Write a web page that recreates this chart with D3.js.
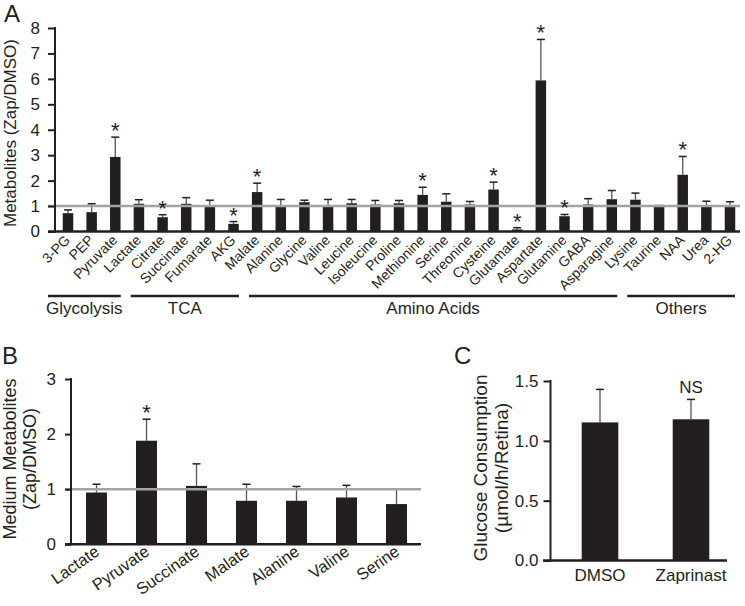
<!DOCTYPE html>
<html><head><meta charset="utf-8">
<script src="https://cdn.jsdelivr.net/npm/d3@7"></script>
<style>
html,body{margin:0;padding:0;background:#fff;}
svg text{font-family:"Liberation Sans",Arial,sans-serif;fill:#231f20;}
</style></head>
<body><svg id="chart" width="745" height="606"></svg>
<script>
// ---------- Panel A data ----------
const aCategories = ["3-PG","PEP","Pyruvate","Lactate","Citrate","Succinate","Fumarate","AKG","Malate",
  "Alanine","Glycine","Valine","Leucine","Isoleucine","Proline","Methionine","Serine","Threonine",
  "Cysteine","Glutamate","Aspartate","Glutamine","GABA","Asparagine","Lysine","Taurine","NAA","Urea","2-HG"];
const aValues = [0.72,0.76,2.93,1.09,0.56,1.09,0.97,0.30,1.55,
  0.98,1.15,0.98,1.11,1.06,1.11,1.44,1.17,1.06,
  1.65,0.08,5.94,0.60,1.06,1.27,1.25,1.00,2.23,0.98,1.00];
const aErrors = [0.13,0.33,0.78,0.16,0.10,0.24,0.26,0.09,0.35,
  0.28,0.08,0.28,0.15,0.16,0.11,0.30,0.31,0.12,
  0.29,0.07,1.61,0.07,0.23,0.34,0.26,0.02,0.72,0.21,0.17];
const aStars = ["Pyruvate","Citrate","AKG","Malate","Methionine","Cysteine","Glutamate","Aspartate","Glutamine","NAA"];
const aTicks = [0,1,2,3,4,5,6,7,8];
const aGroups = [
  {name:"Glycolysis", first:"3-PG", last:"Lactate"},
  {name:"TCA", first:"Citrate", last:"Malate"},
  {name:"Amino Acids", first:"Alanine", last:"Lysine"},
  {name:"Others", first:"Taurine", last:"2-HG"}
];
// ---------- Panel B data ----------
const bCategories = ["Lactate","Pyruvate","Succinate","Malate","Alanine","Valine","Serine"];
const bValues = [0.94,1.88,1.06,0.79,0.79,0.85,0.73];
const bErrors = [0.15,0.39,0.40,0.30,0.26,0.22,0.27];
const bStars = ["Pyruvate"];
const bTicks = [0,1,2,3];
// ---------- Panel C data ----------
const cCategories = ["DMSO","Zaprinast"];
const cValues = [1.154,1.18];
const cErrors = [0.276,0.166];
const cTicks = [0,0.5,1.0,1.5];
const cNote = "NS";

const svg = d3.select("#chart");
svg.append("rect").attr("width",745).attr("height",606).attr("fill","#fff");
const ink = "#231f20";

function panel(opts){
  const g = svg.append("g");
  const x = d3.scalePoint().domain(opts.cats).range(opts.xr).padding(0);
  const y = d3.scaleLinear().domain(opts.yd).range(opts.yr);
  // error bars
  const eg = g.append("g");
  opts.cats.forEach((c,i)=>{
    const v = opts.vals[i], e = opts.errs[i], cx = x(c);
    eg.append("line").attr("x1",cx).attr("x2",cx).attr("y1",y(v)).attr("y2",y(v+e))
      .attr("stroke","#555").attr("stroke-width",1.3);
    eg.append("line").attr("x1",cx-opts.cap/2).attr("x2",cx+opts.cap/2).attr("y1",y(v+e)).attr("y2",y(v+e))
      .attr("stroke",ink).attr("stroke-width",1.5);
  });
  // bars
  g.selectAll("rect.bar").data(opts.cats).enter().append("rect")
    .attr("x",d=>x(d)-opts.bw/2).attr("width",opts.bw)
    .attr("y",(d,i)=>y(opts.vals[i])).attr("height",(d,i)=>y(0)-y(opts.vals[i]))
    .attr("fill",ink);
  // reference line over bars
  if (opts.refLine !== undefined){
    g.append("line").attr("x1",opts.axX0).attr("x2",opts.axX1)
      .attr("y1",y(opts.refLine)).attr("y2",y(opts.refLine))
      .attr("stroke","#a3a3a3").attr("stroke-width",2.5);
  }
  // stars
  (opts.stars||[]).forEach(s=>{
    const i = opts.cats.indexOf(s);
    g.append("text").attr("x",x(s)).attr("y",y(opts.vals[i]+opts.errs[i])+opts.starDy)
      .attr("text-anchor","middle").style("font-size",opts.starSize+"px").text("*");
  });
  // y axis
  const yAxis = d3.axisLeft(y).tickValues(opts.ticks).tickFormat(opts.fmt).tickSize(opts.tickLen).tickPadding(opts.tickPad);
  const ya = g.append("g").attr("transform",`translate(${opts.axY},0)`).call(yAxis);
  ya.select(".domain").remove();
  ya.selectAll(".tick line").attr("stroke",ink).attr("stroke-width",2);
  ya.selectAll(".tick text").style("font-size",opts.tickFont+"px")
    .style("font-family","Liberation Sans, Arial, sans-serif").attr("fill","#333");
  g.append("line").attr("x1",opts.axY).attr("x2",opts.axY).attr("y1",opts.yr[1]-1).attr("y2",y(0)+1)
    .attr("stroke",ink).attr("stroke-width",2);
  // x axis line
  g.append("line").attr("x1",opts.axX0).attr("x2",opts.axX1).attr("y1",y(0)).attr("y2",y(0))
    .attr("stroke",ink).attr("stroke-width",2.5);
  return {g,x,y};
}

// ---------- Panel A ----------
const A = panel({cats:aCategories, vals:aValues, errs:aErrors, stars:aStars, ticks:aTicks,
  fmt:d3.format("d"), xr:[68,730], yd:[0,8], yr:[231.5,28], bw:10.5, cap:8,
  axY:55, axX0:48, axX1:740, refLine:1, tickLen:7, tickPad:8, tickFont:17, starDy:1, starSize:22});
aCategories.forEach(c=>{
  A.g.append("text").attr("transform",`translate(${A.x(c)+3},${241}) rotate(-45)`)
    .attr("text-anchor","end").style("font-size","14px").text(c);
});
aGroups.forEach((gr,k)=>{
  const i0 = aCategories.indexOf(gr.first), i1 = aCategories.indexOf(gr.last);
  const start = k===0 ? A.x(gr.first)-20 : (A.x(aCategories[i0-1])+A.x(gr.first))/2 - 25 + 5;
  const end = k===aGroups.length-1 ? A.x(gr.last)+5 : (A.x(gr.last)+A.x(aCategories[i1+1]))/2 - 25 - 5;
  A.g.append("line").attr("x1",start).attr("x2",end).attr("y1",296).attr("y2",296)
    .attr("stroke",ink).attr("stroke-width",2.5);
  A.g.append("text").attr("x",(start+end)/2).attr("y",314).attr("text-anchor","middle")
    .style("font-size","17px").text(gr.name);
});
svg.append("text").attr("transform","translate(16,133) rotate(-90)").attr("text-anchor","middle")
  .style("font-size","17px").text("Metabolites (Zap/DMSO)");
svg.append("text").attr("x",4).attr("y",22).style("font-size","24px").text("A");

// ---------- Panel B ----------
const B = panel({cats:bCategories, vals:bValues, errs:bErrors, stars:bStars, ticks:bTicks,
  fmt:d3.format("d"), xr:[96.5,396.5], yd:[0,3], yr:[544.3,379], bw:21, cap:8,
  axY:71, axX0:65, axX1:421, refLine:1, tickLen:6, tickPad:9, tickFont:17, starDy:1, starSize:22});
bCategories.forEach(c=>{
  B.g.append("text").attr("transform",`translate(${B.x(c)+4},${554}) rotate(-35)`)
    .attr("text-anchor","end").style("font-size","16.5px").text(c);
});
svg.append("text").attr("transform","translate(16,459) rotate(-90)").attr("text-anchor","middle")
  .style("font-size","18px").text("Medium Metabolites");
svg.append("text").attr("transform","translate(36,459) rotate(-90)").attr("text-anchor","middle")
  .style("font-size","18px").text("(Zap/DMSO)");
svg.append("text").attr("x",2).attr("y",364).style("font-size","24px").text("B");

// ---------- Panel C ----------
const C = panel({cats:cCategories, vals:cValues, errs:cErrors, stars:[], ticks:cTicks,
  fmt:d3.format(".1f"), xr:[600,691], yd:[0,1.5], yr:[560.5,381], bw:36.6, cap:8,
  axY:550.5, axX0:543, axX1:727, tickLen:7, tickPad:5, tickFont:17, starDy:1, starSize:22});
cCategories.forEach(c=>{
  C.g.append("text").attr("x",C.x(c)).attr("y",581).attr("text-anchor","middle")
    .style("font-size","17px").text(c);
});
C.g.append("text").attr("x",C.x("Zaprinast")).attr("y",393).attr("text-anchor","middle")
  .style("font-size","17px").text(cNote);
svg.append("text").attr("transform","translate(487,468) rotate(-90)").attr("text-anchor","middle")
  .style("font-size","19px").text("Glucose Consumption");
svg.append("text").attr("transform","translate(508,468) rotate(-90)").attr("text-anchor","middle")
  .style("font-size","19px").text("(µmol/h/Retina)");
svg.append("text").attr("x",454).attr("y",364).style("font-size","24px").text("C");
</script></body></html>
